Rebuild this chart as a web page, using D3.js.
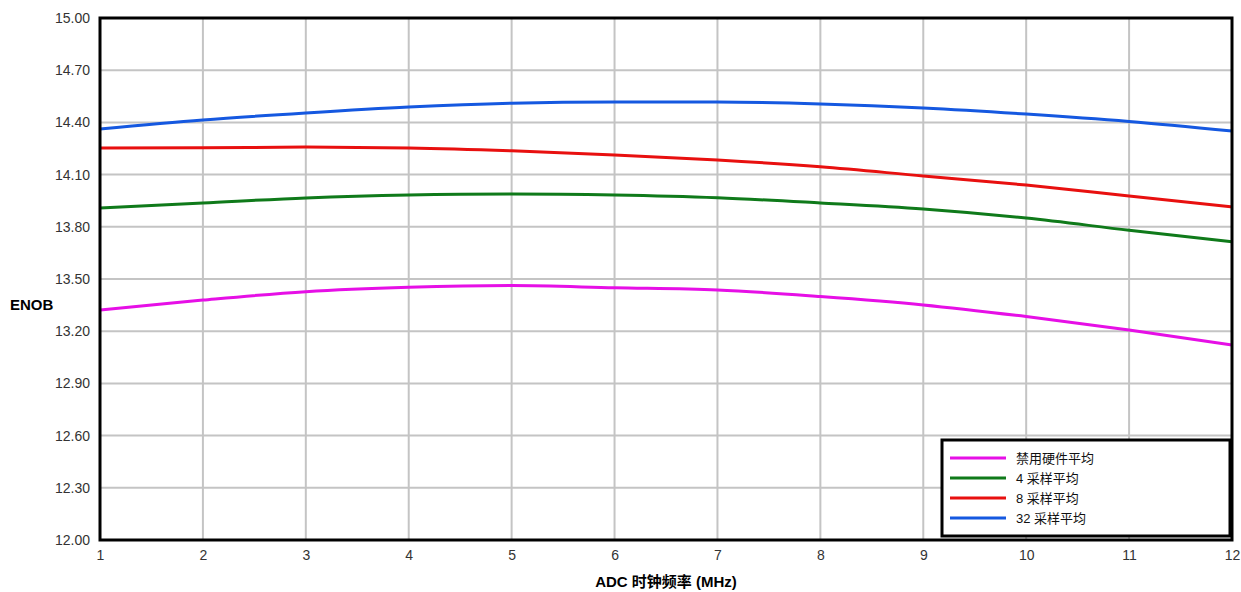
<!DOCTYPE html>
<html>
<head>
<meta charset="utf-8">
<script src="https://cdn.jsdelivr.net/npm/d3@7"></script>
<style>
  body { margin: 0; background: #fff; }
  text { font-family: Arial, "Liberation Sans", "Noto Sans CJK SC", sans-serif; }
</style>
</head>
<body>
<div id="chart"></div>
<script>
// clock frequency (MHz)
var freqs = [1, 2, 3, 4, 5, 6, 7, 8, 9, 10, 11, 12];

// ENOB per averaging mode
var noAvg   = [13.322, 13.379, 13.427, 13.452, 13.462, 13.450, 13.437, 13.399, 13.351, 13.284, 13.207, 13.121];
var avg4    = [13.908, 13.937, 13.966, 13.983, 13.989, 13.983, 13.967, 13.937, 13.902, 13.850, 13.780, 13.714];
var avg8    = [14.253, 14.254, 14.258, 14.253, 14.237, 14.213, 14.184, 14.145, 14.092, 14.040, 13.977, 13.914];
var avg32   = [14.362, 14.414, 14.454, 14.488, 14.510, 14.517, 14.517, 14.506, 14.483, 14.448, 14.405, 14.350];

var seriesNames = ["禁用硬件平均", "4 采样平均", "8 采样平均", "32 采样平均"];
var seriesColors = ["#e60fe6", "#0f7a1a", "#e8100f", "#1558e0"];
var yTicks = [12.00, 12.30, 12.60, 12.90, 13.20, 13.50, 13.80, 14.10, 14.40, 14.70, 15.00];

var width = 1241, height = 592;
var margin = {top: 18, right: 9, bottom: 52, left: 100};

var svg = d3.select("#chart").append("svg")
  .attr("width", width)
  .attr("height", height);

var x = d3.scaleLinear().domain([1, 12]).range([margin.left, width - margin.right]);
var y = d3.scaleLinear().domain([12, 15]).range([height - margin.bottom, margin.top]);

// grid
svg.append("g").selectAll("line.v")
  .data(freqs)
  .enter().append("line")
    .attr("x1", function(d) { return x(d); })
    .attr("x2", function(d) { return x(d); })
    .attr("y1", y(15)).attr("y2", y(12))
    .attr("stroke", "#c4c4c4").attr("stroke-width", 2);

svg.append("g").selectAll("line.h")
  .data(yTicks)
  .enter().append("line")
    .attr("x1", x(1)).attr("x2", x(12))
    .attr("y1", function(d) { return y(d); })
    .attr("y2", function(d) { return y(d); })
    .attr("stroke", "#c4c4c4").attr("stroke-width", 2);

// axes (labels only, frame drawn separately)
var yAxis = svg.append("g")
  .attr("transform", "translate(" + x(1) + ",0)")
  .call(d3.axisLeft(y).tickValues(yTicks).tickFormat(d3.format(".2f")).tickSize(0).tickPadding(10));
yAxis.select(".domain").remove();
yAxis.selectAll("text").attr("font-size", 14).attr("fill", "#333")
  .attr("font-family", "Arial, 'Liberation Sans', sans-serif");

var xAxis = svg.append("g")
  .attr("transform", "translate(0," + y(12) + ")")
  .call(d3.axisBottom(x).tickValues(freqs).tickFormat(d3.format("d")).tickSize(0).tickPadding(10));
xAxis.select(".domain").remove();
xAxis.selectAll("text").attr("font-size", 14).attr("fill", "#333")
  .attr("font-family", "Arial, 'Liberation Sans', sans-serif");

// curves
var allSeries = [noAvg, avg4, avg8, avg32];
var line = d3.line()
  .x(function(d, i) { return x(freqs[i]); })
  .y(function(d) { return y(d); })
  .curve(d3.curveMonotoneX);

svg.append("g").selectAll("path")
  .data(allSeries)
  .enter().append("path")
    .attr("d", line)
    .attr("fill", "none")
    .attr("stroke", function(d, i) { return seriesColors[i]; })
    .attr("stroke-width", 3);

// frame
svg.append("rect")
  .attr("x", x(1)).attr("y", y(15))
  .attr("width", x(12) - x(1)).attr("height", y(12) - y(15))
  .attr("fill", "none").attr("stroke", "#000").attr("stroke-width", 3);

// axis titles
svg.append("text")
  .attr("x", 10).attr("y", 310)
  .attr("font-size", 15).attr("font-weight", "bold")
  .text("ENOB");

svg.append("text")
  .attr("x", (x(1) + x(12)) / 2).attr("y", 587)
  .attr("text-anchor", "middle")
  .attr("font-size", 15).attr("font-weight", "bold")
  .text("ADC 时钟频率 (MHz)");

// legend
var legend = svg.append("g").attr("transform", "translate(942,440)");
legend.append("rect")
  .attr("width", 288).attr("height", 96)
  .attr("fill", "#fff").attr("stroke", "#000").attr("stroke-width", 3);

var items = legend.selectAll("g.item")
  .data(seriesNames)
  .enter().append("g")
    .attr("transform", function(d, i) { return "translate(0," + (18 + i * 20) + ")"; });

items.append("line")
  .attr("x1", 8).attr("x2", 64)
  .attr("stroke", function(d, i) { return seriesColors[i]; })
  .attr("stroke-width", 3);

items.append("text")
  .attr("x", 74).attr("y", 5)
  .attr("font-size", 13).attr("fill", "#111")
  .text(function(d) { return d; });
</script>
</body>
</html>
